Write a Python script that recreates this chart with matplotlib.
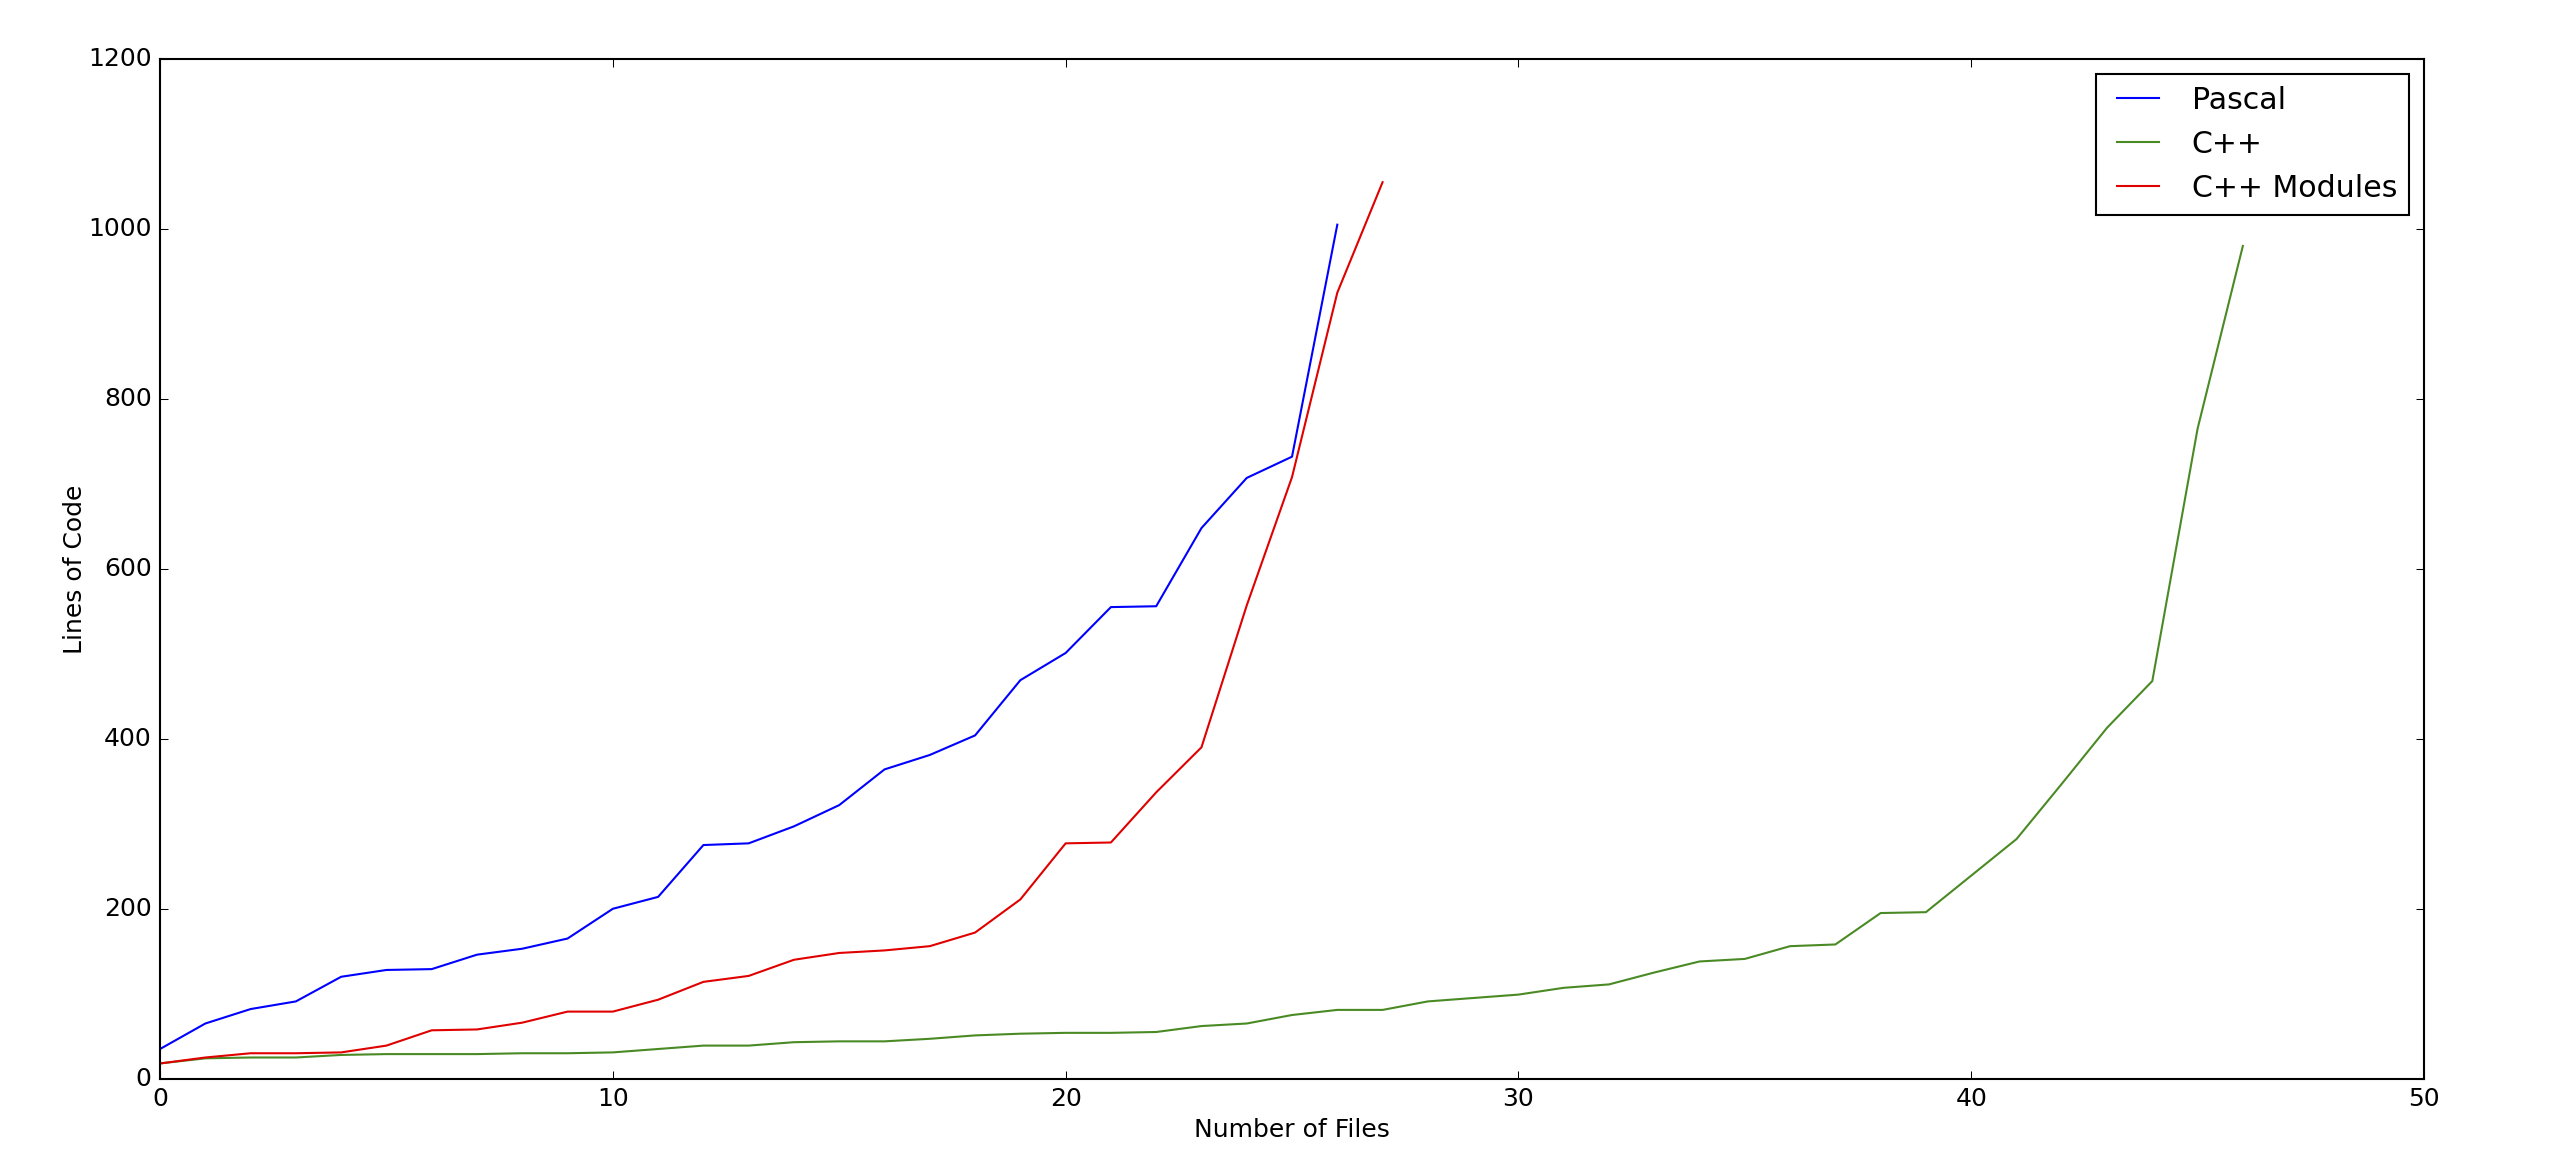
import matplotlib
matplotlib.use('Agg')
import matplotlib.pyplot as plt

# Lines of code per file (files sorted by size)
pascal = [35, 65, 82, 91, 120, 128, 129, 146, 153, 165, 200, 214, 275, 277,
          297, 322, 364, 381, 404, 469, 501, 555, 556, 648, 707, 732, 1005]
cpp = [18, 24, 25, 25, 28, 29, 29, 29, 30, 30, 31, 35, 39, 39, 43, 44, 44,
       47, 51, 53, 54, 54, 55, 62, 65, 75, 81, 81, 91, 95, 99, 107, 111, 125,
       138, 141, 156, 158, 195, 196, 239, 282, 347, 413, 468, 765, 980]
cpp_modules = [18, 25, 30, 30, 31, 39, 57, 58, 66, 79, 79, 93, 114, 121, 140,
               148, 151, 156, 172, 211, 277, 278, 337, 390, 557, 708, 925, 1055]

plt.style.use('classic')

fig = plt.figure(figsize=(2561 / 150, 1170 / 150))
ax = fig.add_axes([0.0625, 0.0780, 0.8840, 0.8716])

ax.plot(range(len(pascal)), pascal, color='b', label='Pascal')
ax.plot(range(len(cpp)), cpp, color='#4a8a25', label='C++')
ax.plot(range(len(cpp_modules)), cpp_modules, color='#e00000', label='C++ Modules')

ax.set_xlim(0, 50)
ax.set_ylim(0, 1200)
ax.set_xlabel('Number of Files', labelpad=3.5)
ax.set_ylabel('Lines of Code', labelpad=0.5)
ax.legend(loc='upper right')

plt.savefig('out.png', dpi=150)
